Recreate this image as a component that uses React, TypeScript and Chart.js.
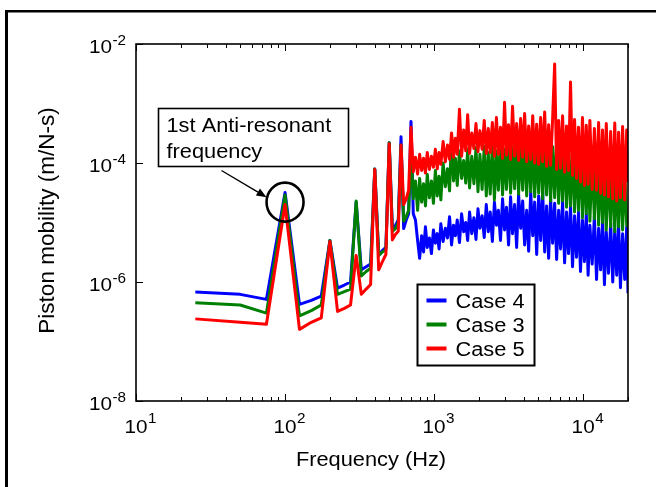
import React, { useEffect, useRef } from "react";
import { Chart, registerables } from "chart.js";

Chart.register(...registerables);

// ---------- data ----------
const lowFreqHz = [25, 50, 75, 100, 125, 150, 175, 200, 225, 250, 275, 300, 325, 350, 375, 400, 425, 450, 475, 500, 525, 550, 575, 600, 625, 650, 675, 700, 725];

const highFreqHz = [
  750, 775, 800, 825, 850, 875, 900, 930, 960, 990,
  1020, 1050, 1080, 1110, 1150, 1190, 1230, 1270, 1310, 1350,
  1390, 1430, 1480, 1530, 1580, 1630, 1680, 1730, 1790, 1850,
  1910, 1970, 2030, 2100, 2170, 2240, 2310, 2380, 2460, 2540,
  2620, 2700, 2790, 2880, 2970, 3060, 3160, 3260, 3360, 3470,
  3580, 3690, 3810, 3930, 4050, 4180, 4310, 4450, 4590, 4730,
  4880, 5030, 5190, 5350, 5520, 5690, 5870, 6050, 6240, 6440,
  6640, 6850, 7060, 7280, 7510, 7740, 7980, 8230, 8490, 8760,
  9030, 9310, 9600, 9900, 10200, 10500, 10800, 11100, 11500, 11900,
  12300, 12700, 13100, 13500, 13900, 14300, 14800, 15300, 15800, 16300,
  16800, 17300, 17800, 18400, 19000, 19600, 20000,
];

// Case 4 (blue)
const case4Low = [6.8e-7, 6.2e-7, 5.1e-7, 3.2e-5, 4.2e-7, 4.9e-7, 5.8e-7, 5.0e-6, 7.9e-7, 8.9e-7, 1.0e-6, 2.2e-5, 1.6e-6, 1.8e-6, 2.0e-6, 7.9e-5, 2.8e-6, 3.4e-6, 3.8e-6, 2.2e-4, 7.9e-6, 8.9e-6, 1.1e-5, 2.75e-4, 7.9e-6, 1.1e-5, 1.4e-5, 5.0e-4, 1.4e-5];
const case4High = [
  1.1e-5, 5e-6, 2.5e-6, 6e-6, 3.2e-6, 8.5e-6, 3.8e-6, 5.5e-6, 3e-6, 7.5e-6,
  4.5e-6, 6.5e-6, 3.6e-6, 9.5e-6, 4.8e-6, 8e-6, 5.5e-6, 1.25e-5, 4.2e-6, 9e-6,
  6e-6, 1.1e-5, 4.6e-6, 1.4e-5, 7e-6, 1.0e-5, 5e-6, 1.5e-5, 6.5e-6, 1.2e-5,
  5.2e-6, 1.7e-5, 8e-6, 1.3e-5, 5.6e-6, 2e-5, 7e-6, 1.5e-5, 4.8e-6, 2.2e-5,
  9e-6, 1.6e-5, 5e-6, 2.5e-5, 7.5e-6, 1.8e-5, 4.2e-6, 2.7e-5, 6.5e-6, 2e-5,
  3.8e-6, 3e-5, 8e-6, 2.3e-5, 4.2e-6, 1.6e-5, 3.3e-6, 3.3e-5, 6e-6, 2.2e-5,
  2.9e-6, 2.8e-5, 5e-6, 3.4e-5, 3.2e-6, 1.9e-5, 2.5e-6, 2.6e-5, 4.5e-6, 2.1e-5,
  2.4e-6, 1.6e-5, 3.6e-6, 2.3e-5, 2.1e-6, 1.5e-5, 3e-6, 1.9e-5, 1.8e-6, 1.3e-5,
  2.6e-6, 1.5e-5, 1.5e-6, 1.1e-5, 2.2e-6, 1.4e-5, 1.3e-6, 9e-6, 2e-6, 1.3e-5,
  1.1e-6, 8e-6, 1.6e-6, 1.1e-5, 9e-7, 7e-6, 1.4e-6, 1e-5, 1.0e-6, 7.5e-6,
  1.3e-6, 9e-6, 8e-7, 6.5e-6, 1.1e-6, 8.5e-6, 6.5e-7,
];

// Case 3 (green)
const case3Low = [4.5e-7, 4.1e-7, 3.0e-7, 2.9e-5, 2.7e-7, 3.3e-7, 4.1e-7, 5.0e-6, 6.2e-7, 6.9e-7, 7.6e-7, 2.3e-5, 1.26e-6, 1.5e-6, 1.7e-6, 7.9e-5, 2.8e-6, 3.2e-6, 3.5e-6, 2.2e-4, 7.1e-6, 7.9e-6, 1.0e-5, 2.0e-4, 1.05e-5, 1.26e-5, 1.6e-5, 1.6e-4, 2.5e-5];
const case3High = [
  5e-5, 1.6e-5, 5.5e-5, 2.2e-5, 4.5e-5, 1.9e-5, 6.5e-5, 2.6e-5, 5e-5, 2.1e-5,
  7.5e-5, 2.8e-5, 6e-5, 2.4e-5, 1.0e-4, 4e-5, 8e-5, 3.4e-5, 2.8e-4, 5e-5,
  1.2e-4, 4.2e-5, 1.6e-4, 5.5e-5, 1.1e-4, 4.6e-5, 1.7e-4, 3.8e-5, 1.3e-4, 4.5e-5,
  1.8e-4, 3.3e-5, 1.4e-4, 3.6e-5, 1.9e-4, 2.8e-5, 1.5e-4, 3e-5, 2e-4, 2.4e-5,
  1.6e-4, 3.5e-5, 2.2e-4, 2.9e-5, 1.7e-4, 3.6e-5, 2.4e-4, 3.1e-5, 1.8e-4, 3.7e-5,
  2.6e-4, 3e-5, 2e-4, 3.5e-5, 2.8e-4, 2.8e-5, 2.1e-4, 3.3e-5, 2.5e-4, 2.7e-5,
  2e-4, 3.1e-5, 3.2e-4, 2.5e-5, 2.2e-4, 2.9e-5, 2.6e-4, 2.3e-5, 1.9e-4, 2.6e-5,
  2.4e-4, 2.1e-5, 1.8e-4, 2.3e-5, 2.2e-4, 1.8e-5, 1.6e-4, 1.9e-5, 2e-4, 1.5e-5,
  1.5e-4, 1.6e-5, 1.8e-4, 1.2e-5, 1.3e-4, 1.4e-5, 1.6e-4, 1.05e-5, 1.2e-4, 1.15e-5,
  1.4e-4, 9e-6, 1.05e-4, 1e-5, 1.2e-4, 7.5e-6, 9e-5, 8.5e-6, 1.1e-4, 7e-6,
  8e-5, 8.5e-6, 1e-4, 7.5e-6, 7.5e-5, 9e-6, 8.5e-6,
];

// Case 5 (red)
const case5Low = [2.4e-7, 2.1e-7, 1.95e-7, 2.0e-5, 1.6e-7, 2.1e-7, 2.5e-7, 4.8e-6, 3.2e-7, 3.6e-7, 4.1e-7, 2.8e-6, 6.2e-7, 7.6e-7, 9.1e-7, 7.8e-5, 1.6e-6, 2.2e-6, 2.9e-6, 2.1e-4, 5.1e-6, 6.3e-6, 7.1e-6, 2.0e-4, 2.0e-5, 2.5e-5, 3.5e-5, 4.0e-4, 7.1e-5];
const case5High = [
  1.25e-4, 6.5e-5, 1.4e-4, 7.5e-5, 1.2e-4, 6.8e-5, 1.5e-4, 7.8e-5, 1.3e-4, 8.5e-5,
  1.7e-4, 8e-5, 1.5e-4, 9.5e-5, 2.3e-4, 1.05e-4, 2e-4, 1.15e-4, 3.2e-4, 1.25e-4,
  2.6e-4, 1.4e-4, 8e-4, 1.3e-4, 3.6e-4, 1.6e-4, 6.5e-4, 1.45e-4, 3.2e-4, 1.75e-4,
  4.6e-4, 1.55e-4, 3.5e-4, 1.7e-4, 5.2e-4, 1.45e-4, 3.8e-4, 1.5e-4, 4.8e-4, 1.3e-4,
  5.8e-4, 1.4e-4, 4e-4, 1.2e-4, 1.05e-3, 1.35e-4, 4.4e-4, 1.15e-4, 9e-4, 1.3e-4,
  4.6e-4, 1.1e-4, 5.6e-4, 1.25e-4, 6.8e-4, 1.05e-4, 4.2e-4, 1.15e-4, 6.2e-4, 1e-4,
  4.5e-4, 9.5e-5, 5.8e-4, 1.05e-4, 7.2e-4, 8.8e-5, 4.4e-4, 9.2e-5, 5.5e-4, 4.6e-3,
  7.8e-5, 5.2e-4, 8.2e-5, 6.2e-4, 7e-5, 4.2e-4, 7.5e-5, 2.3e-3, 6.2e-5, 5.4e-4,
  5.5e-5, 4e-4, 4.8e-5, 5.8e-4, 4.2e-5, 4.3e-4, 4.4e-5, 5.2e-4, 3.6e-5, 3.8e-4,
  3.5e-5, 4.8e-4, 3.1e-5, 3.6e-4, 2.9e-5, 4.6e-4, 2.7e-5, 3.4e-4, 2.5e-5, 4.7e-4,
  2.3e-5, 3.3e-4, 2.6e-5, 4.1e-4, 2.4e-5, 3.6e-4, 4.8e-5,
];

const seriesLabels = ["Case 4", "Case 3", "Case 5"];
const seriesColors = ["#0000ff", "#008000", "#ff0000"];

const xTickValues = [10, 100, 1000, 10000];
const xTickExponents = ["1", "2", "3", "4"];
const yTickValues = [1e-2, 1e-4, 1e-6, 1e-8];
const yTickExponents = ["-2", "-4", "-6", "-8"];
const xMin = 10;
const xMax = 20000;
const yMin = 1e-8;
const yMax = 1e-2;

const xTitle = "Frequency (Hz)";
const yTitle = "Piston mobility (m/N-s)";
const noteLines = ["1st Anti-resonant", "frequency"];
const noteTarget = { x: 100, y: 2.2e-5 };

// ---------- helpers ----------
const FONT = '"Liberation Sans", Arial, Helvetica, sans-serif';

function toPoints(freq: number[], vals: number[]) {
  return freq.map((f, i) => ({ x: f, y: vals[i] }));
}

function measure(ctx: CanvasRenderingContext2D, s: string, size: number, sx: number) {
  ctx.save();
  ctx.font = `${size}px ${FONT}`;
  const w = ctx.measureText(s).width * sx;
  ctx.restore();
  return w;
}

function drawText(
  ctx: CanvasRenderingContext2D,
  s: string,
  x: number,
  y: number,
  size: number,
  align: "left" | "center" | "right",
  sx = 1
) {
  const w = measure(ctx, s, size, sx);
  let left = x;
  if (align === "center") left = x - w / 2;
  else if (align === "right") left = x - w;
  ctx.save();
  ctx.font = `${size}px ${FONT}`;
  ctx.textAlign = "left";
  ctx.textBaseline = "alphabetic";
  ctx.fillStyle = "#000";
  ctx.translate(left, y);
  ctx.scale(sx, 1);
  ctx.fillText(s, 0, 0);
  ctx.restore();
  return w;
}

const TXT = 20;
const SX = 1.09;

const decorPlugin = {
  id: "decor",
  beforeDraw(chart: any) {
    const { ctx, width, height } = chart;
    ctx.save();
    ctx.fillStyle = "#ffffff";
    ctx.fillRect(0, 0, width, height);
    ctx.fillStyle = "#000";
    ctx.fillRect(5, 10, 3, height - 10);
    ctx.fillRect(5, 10, width - 5, 2.5);
    ctx.restore();
  },
  afterDraw(chart: any) {
    const { ctx, chartArea: a } = chart;
    const xs = chart.scales.x;
    const ys = chart.scales.y;
    ctx.save();
    ctx.strokeStyle = "#000";
    ctx.fillStyle = "#000";

    // plot frame
    ctx.lineWidth = 1.6;
    ctx.strokeRect(a.left, a.top, a.right - a.left, a.bottom - a.top);

    // ticks (inward)
    ctx.beginPath();
    for (const d of xTickValues) {
      for (let m = 1; m <= 9; m++) {
        const v = d * m;
        if (v > xMax) continue;
        const px = Math.round(xs.getPixelForValue(v)) + 0.5;
        const len = m === 1 ? 7 : 4;
        ctx.moveTo(px, a.bottom);
        ctx.lineTo(px, a.bottom - len);
        ctx.moveTo(px, a.top);
        ctx.lineTo(px, a.top + len);
      }
    }
    for (const v of yTickValues) {
      const py = Math.round(ys.getPixelForValue(v)) + 0.5;
      ctx.moveTo(a.left, py);
      ctx.lineTo(a.left + 7, py);
    }
    ctx.lineWidth = 1;
    ctx.stroke();

    // x tick labels
    xTickValues.forEach((v, i) => {
      const px = xs.getPixelForValue(v);
      const w10 = measure(ctx, "10", 19, SX);
      drawText(ctx, "10", px - w10 / 2, a.bottom + 32, 19, "left", SX);
      drawText(ctx, xTickExponents[i], px + w10 / 2 + 0.5, a.bottom + 22, 14, "left", SX);
    });

    // y tick labels
    yTickValues.forEach((v, i) => {
      const py = ys.getPixelForValue(v);
      const right = a.left - 10;
      const ws = measure(ctx, yTickExponents[i], 14, SX);
      drawText(ctx, yTickExponents[i], right, py + 1, 14, "right", SX);
      drawText(ctx, "10", right - ws - 0.5, py + 9, 19, "right", SX);
    });

    // axis titles
    drawText(ctx, xTitle, 371, 466, TXT, "center", SX);
    ctx.save();
    ctx.translate(54, (a.top + a.bottom) / 2 - 2);
    ctx.rotate(-Math.PI / 2);
    drawText(ctx, yTitle, 0, 0, 22.5, "center", 1);
    ctx.restore();

    // annotation: circle around the first anti-resonance
    const cx = xs.getPixelForValue(noteTarget.x);
    const cy = ys.getPixelForValue(noteTarget.y);
    ctx.beginPath();
    ctx.ellipse(cx, cy, 18.5, 19.5, 0, 0, Math.PI * 2);
    ctx.lineWidth = 2.6;
    ctx.stroke();

    // note box
    const bx = 158.5, by = 108.5, bw = 190, bh = 58;
    ctx.lineWidth = 1.6;
    ctx.strokeRect(bx, by, bw, bh);
    drawText(ctx, noteLines[0], bx + 8, by + 23, TXT, "left", SX);
    drawText(ctx, noteLines[1], bx + 8, by + 49, TXT, "left", SX);

    // arrow
    const x0 = 221.5, y0 = 170.5, x1 = cx - 18.5, y1 = cy - 5;
    const ang = Math.atan2(y1 - y0, x1 - x0);
    const hl = 10, hw = 4;
    const bxp = x1 - hl * Math.cos(ang), byp = y1 - hl * Math.sin(ang);
    ctx.beginPath();
    ctx.moveTo(x0, y0);
    ctx.lineTo(bxp, byp);
    ctx.lineWidth = 1.4;
    ctx.stroke();
    ctx.beginPath();
    ctx.moveTo(x1, y1);
    ctx.lineTo(bxp + hw * Math.sin(ang), byp - hw * Math.cos(ang));
    ctx.lineTo(bxp - hw * Math.sin(ang), byp + hw * Math.cos(ang));
    ctx.closePath();
    ctx.fill();

    // legend
    const lx = 417.5, ly = 284.5, lw = 117, lh = 81;
    ctx.fillStyle = "#fff";
    ctx.fillRect(lx, ly, lw, lh);
    ctx.lineWidth = 2;
    ctx.strokeStyle = "#000";
    ctx.strokeRect(lx, ly, lw, lh);
    chart.data.datasets.forEach((ds: any, i: number) => {
      const yy = ly + 16 + i * 24;
      ctx.beginPath();
      ctx.moveTo(lx + 9, yy);
      ctx.lineTo(lx + 29, yy);
      ctx.strokeStyle = ds.borderColor;
      ctx.lineWidth = 4;
      ctx.stroke();
      drawText(ctx, ds.label, lx + 38, yy + 7, TXT, "left", SX);
    });

    ctx.restore();
  },
};

export default function App() {
  const ref = useRef<HTMLCanvasElement | null>(null);

  useEffect(() => {
    if (!ref.current) return;
    const series = [
      [...toPoints(lowFreqHz, case4Low), ...toPoints(highFreqHz, case4High)],
      [...toPoints(lowFreqHz, case3Low), ...toPoints(highFreqHz, case3High)],
      [...toPoints(lowFreqHz, case5Low), ...toPoints(highFreqHz, case5High)],
    ];
    const chart = new Chart(ref.current, {
      type: "line",
      data: {
        datasets: series.map((pts, i) => ({
          label: seriesLabels[i],
          data: pts,
          borderColor: seriesColors[i],
          backgroundColor: seriesColors[i],
          borderWidth: 3,
          pointRadius: 0,
          tension: 0,
          fill: false,
          borderJoinStyle: "round",
          order: 2 - i,
        })),
      },
      options: {
        animation: false,
        responsive: false,
        maintainAspectRatio: false,
        devicePixelRatio: 1,
        layout: { padding: { left: 136, top: 44, right: 28, bottom: 86 } },
        plugins: { legend: { display: false }, tooltip: { enabled: false } },
        scales: {
          x: { type: "logarithmic", min: xMin, max: xMax, display: false },
          y: { type: "logarithmic", min: yMin, max: yMax, display: false },
        },
      },
      plugins: [decorPlugin],
    } as any);
    return () => chart.destroy();
  }, []);

  return (
    <div style={{ position: "fixed", left: 0, top: 0, width: 656, height: 487, background: "#fff" }}>
      <canvas ref={ref} width={656} height={487} style={{ display: "block", width: 656, height: 487 }} />
    </div>
  );
}
